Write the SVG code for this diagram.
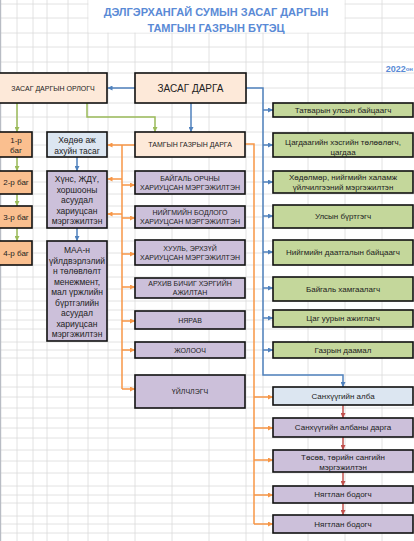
<svg xmlns="http://www.w3.org/2000/svg" width="414" height="541" viewBox="0 0 414 541">
<style>
text{font-family:"Liberation Sans",Arial,sans-serif;fill:#222;text-anchor:middle;dominant-baseline:central}
.grid line{stroke:#dadada;stroke-width:0.8}
.box{stroke:#111;stroke-width:1.6}
.peach{fill:#fde9d9}.purple{fill:#ccc0da}.lblue{fill:#dce6f1}.orange{fill:#fabf8f}.green{fill:#c4d79b}
.cap{font-size:7px}.sm{font-size:8px}.md{font-size:8.5px}
.cb{stroke:#4f81bd;stroke-width:1.5;fill:none}
.cg{stroke:#9bbb59;stroke-width:1.5;fill:none}
.co{stroke:#f79646;stroke-width:1.5;fill:none}
.cr{stroke:#c0504d;stroke-width:1.5;fill:none}
.title{font-size:11px;font-weight:bold;fill:#5a8ad6}
</style>
<defs>
<marker id="mb" viewBox="0 0 10 10" refX="10" refY="5" markerWidth="5" markerHeight="5" markerUnits="userSpaceOnUse" orient="auto"><path d="M0,0L10,5L0,10z" fill="#4f81bd"/></marker>
<marker id="mg" viewBox="0 0 10 10" refX="10" refY="5" markerWidth="5" markerHeight="5" markerUnits="userSpaceOnUse" orient="auto"><path d="M0,0L10,5L0,10z" fill="#9bbb59"/></marker>
<marker id="mo" viewBox="0 0 10 10" refX="10" refY="5" markerWidth="5" markerHeight="5" markerUnits="userSpaceOnUse" orient="auto"><path d="M0,0L10,5L0,10z" fill="#f79646"/></marker>
<marker id="mr" viewBox="0 0 10 10" refX="10" refY="5" markerWidth="5" markerHeight="5" markerUnits="userSpaceOnUse" orient="auto"><path d="M0,0L10,5L0,10z" fill="#c0504d"/></marker>
</defs>
<rect width="414" height="541" fill="#fff"/>
<g class="grid">
<line x1="17" y1="0" x2="17" y2="541"/><line x1="33" y1="0" x2="33" y2="541"/><line x1="47" y1="0" x2="47" y2="541"/><line x1="68" y1="0" x2="68" y2="541"/><line x1="88" y1="0" x2="88" y2="541"/><line x1="108" y1="0" x2="108" y2="541"/><line x1="135" y1="0" x2="135" y2="541"/><line x1="172" y1="0" x2="172" y2="541"/><line x1="209" y1="0" x2="209" y2="541"/><line x1="246" y1="0" x2="246" y2="541"/><line x1="263" y1="0" x2="263" y2="541"/><line x1="308" y1="0" x2="308" y2="541"/><line x1="345" y1="0" x2="345" y2="541"/><line x1="382" y1="0" x2="382" y2="541"/>
<line x1="0" y1="4" x2="414" y2="4"/><line x1="0" y1="18" x2="414" y2="18"/><line x1="0" y1="33" x2="414" y2="33"/><line x1="0" y1="47" x2="414" y2="47"/><line x1="0" y1="62" x2="414" y2="62"/><line x1="0" y1="73" x2="414" y2="73"/><line x1="0" y1="88" x2="414" y2="88"/><line x1="0" y1="103" x2="414" y2="103"/><line x1="0" y1="117" x2="414" y2="117"/><line x1="0" y1="132" x2="414" y2="132"/><line x1="0" y1="145" x2="414" y2="145"/><line x1="0" y1="157" x2="414" y2="157"/><line x1="0" y1="171" x2="414" y2="171"/><line x1="0" y1="182" x2="414" y2="182"/><line x1="0" y1="194" x2="414" y2="194"/><line x1="0" y1="206" x2="414" y2="206"/><line x1="0" y1="217" x2="414" y2="217"/><line x1="0" y1="228" x2="414" y2="228"/><line x1="0" y1="241" x2="414" y2="241"/><line x1="0" y1="253" x2="414" y2="253"/><line x1="0" y1="265" x2="414" y2="265"/><line x1="0" y1="277" x2="414" y2="277"/><line x1="0" y1="289" x2="414" y2="289"/><line x1="0" y1="301" x2="414" y2="301"/><line x1="0" y1="310" x2="414" y2="310"/><line x1="0" y1="320" x2="414" y2="320"/><line x1="0" y1="329" x2="414" y2="329"/><line x1="0" y1="342" x2="414" y2="342"/><line x1="0" y1="350" x2="414" y2="350"/><line x1="0" y1="358" x2="414" y2="358"/><line x1="0" y1="375" x2="414" y2="375"/><line x1="0" y1="387" x2="414" y2="387"/><line x1="0" y1="397" x2="414" y2="397"/><line x1="0" y1="408" x2="414" y2="408"/><line x1="0" y1="418" x2="414" y2="418"/><line x1="0" y1="428" x2="414" y2="428"/><line x1="0" y1="438" x2="414" y2="438"/><line x1="0" y1="450" x2="414" y2="450"/><line x1="0" y1="461" x2="414" y2="461"/><line x1="0" y1="473" x2="414" y2="473"/><line x1="0" y1="486" x2="414" y2="486"/><line x1="0" y1="495" x2="414" y2="495"/><line x1="0" y1="503" x2="414" y2="503"/><line x1="0" y1="516" x2="414" y2="516"/><line x1="0" y1="524" x2="414" y2="524"/><line x1="0" y1="533" x2="414" y2="533"/>
</g>
<line x1="0.6" y1="0" x2="0.6" y2="541" stroke="#b8bcc4" stroke-width="1.2"/>
<g id="title">
<rect x="88.5" y="0" width="256" height="32.5" fill="#fff"/>
<text class="title" x="216" y="12">ДЭЛГЭРХАНГАЙ СУМЫН ЗАСАГ ДАРГЫН</text>
<text class="title" x="216" y="28">ТАМГЫН ГАЗРЫН БҮТЭЦ</text>
<text x="413" y="68.5" style="font-weight:bold;fill:#5a8ad6;font-size:9px;text-anchor:end">2022<tspan style="font-size:6px">он</tspan></text>
</g>
<g id="connectors">
<path class="cb" d="M135,88H107.5" marker-end="url(#mb)"/>
<path class="cb" d="M191,103V132" marker-end="url(#mb)"/>
<path class="cb" d="M246,88H263V375H343V387" marker-end="url(#mb)"/>
<path class="cb" d="M263,110H273" marker-end="url(#mb)"/>
<path class="cb" d="M263,145H273" marker-end="url(#mb)"/>
<path class="cb" d="M263,182H273" marker-end="url(#mb)"/>
<path class="cb" d="M263,216H273" marker-end="url(#mb)"/>
<path class="cb" d="M263,252H273" marker-end="url(#mb)"/>
<path class="cb" d="M263,288H273" marker-end="url(#mb)"/>
<path class="cb" d="M263,318H273" marker-end="url(#mb)"/>
<path class="cb" d="M263,350H273" marker-end="url(#mb)"/>
<path class="cb" d="M77,157V171" marker-end="url(#mb)"/>
<path class="cb" d="M77,228V241" marker-end="url(#mb)"/>
<path class="cg" d="M17,103V132" marker-end="url(#mg)"/>
<path class="cg" d="M17,157V171" marker-end="url(#mg)"/>
<path class="cg" d="M17,194V206" marker-end="url(#mg)"/>
<path class="cg" d="M17,228V241" marker-end="url(#mg)"/>
<path class="cg" d="M87,103V117H155V132" marker-end="url(#mg)"/>
<path class="co" d="M135,145H107.5" marker-end="url(#mo)"/>
<path class="co" d="M122,145V389"/>
<path class="co" d="M122,179H107.5" marker-end="url(#mo)"/>
<path class="co" d="M122,214H107.5" marker-end="url(#mo)"/>
<path class="co" d="M122,185H135" marker-end="url(#mo)"/>
<path class="co" d="M122,218H135" marker-end="url(#mo)"/>
<path class="co" d="M122,254H135" marker-end="url(#mo)"/>
<path class="co" d="M122,287H135" marker-end="url(#mo)"/>
<path class="co" d="M122,321H135" marker-end="url(#mo)"/>
<path class="co" d="M122,350H135" marker-end="url(#mo)"/>
<path class="co" d="M122,389H135" marker-end="url(#mo)"/>
<path class="co" d="M245,144H254V524"/>
<path class="co" d="M254,397H273" marker-end="url(#mo)"/>
<path class="co" d="M254,428H273" marker-end="url(#mo)"/>
<path class="co" d="M254,460H273" marker-end="url(#mo)"/>
<path class="co" d="M254,495H273" marker-end="url(#mo)"/>
<path class="co" d="M254,524H273" marker-end="url(#mo)"/>
<path class="cr" d="M343,405V418" marker-end="url(#mr)"/>
<path class="cr" d="M343,437V450" marker-end="url(#mr)"/>
<path class="cr" d="M343,472V486" marker-end="url(#mr)"/>
<path class="cr" d="M343,503V515" marker-end="url(#mr)"/>
</g>
<g id="n-orlogch"><rect class="box peach" x="-1" y="73" width="108" height="30"/><text class="cap" x="53" y="88">ЗАСАГ ДАРГЫН ОРЛОГЧ</text></g>
<g id="n-zd"><rect class="box peach" x="135" y="73" width="111" height="30"/><text x="190.5" y="88" style="font-size:10px">ЗАСАГ ДАРГА</text></g>
<g id="n-tgd"><rect class="box peach" x="135" y="132" width="110" height="25"/><text class="cap" x="190" y="144.5">ТАМГЫН ГАЗРЫН ДАРГА</text></g>
<g id="n-baigal"><rect class="box purple" x="135" y="171" width="110" height="23"/><text class="cap" x="190" y="178.5">БАЙГАЛЬ ОРЧНЫ</text><text class="cap" x="190" y="187.5">ХАРИУЦСАН МЭРГЭЖИЛТЭН</text></g>
<g id="n-niigmiin"><rect class="box purple" x="135" y="206" width="110" height="22"/><text class="cap" x="190" y="212.5">НИЙГМИЙН БОДЛОГО</text><text class="cap" x="190" y="221.5">ХАРИУЦСАН МЭРГЭЖИЛТЭН</text></g>
<g id="n-huuli"><rect class="box purple" x="135" y="240" width="110" height="25"/><text class="cap" x="190" y="248">ХУУЛЬ, ЭРХЗҮЙ</text><text class="cap" x="190" y="257">ХАРИУЦСАН МЭРГЭЖИЛТЭН</text></g>
<g id="n-arhiv"><rect class="box purple" x="135" y="278" width="110" height="20"/><text class="cap" x="190" y="283.5">АРХИВ БИЧИГ ХЭРГИЙН</text><text class="cap" x="190" y="292.5">АЖИЛТАН</text></g>
<g id="n-nyarav"><rect class="box purple" x="135" y="311" width="110" height="18"/><text class="cap" x="190" y="320">НЯРАВ</text></g>
<g id="n-jolooch"><rect class="box purple" x="135" y="342" width="110" height="16"/><text class="cap" x="190" y="350">ЖОЛООЧ</text></g>
<g id="n-uilchlegch"><rect class="box purple" x="135" y="375" width="110" height="33"/><text class="cap" x="190" y="391.5">ҮЙЛЧЛЭГЧ</text></g>
<g id="n-hodoo"><rect class="box lblue" x="47" y="132" width="60" height="25"/><text class="md" x="77" y="140">Хөдөө аж</text><text class="md" x="77" y="151">ахуйн тасаг</text></g>
<g id="n-huns"><rect class="box purple" x="47" y="171" width="60" height="57"/><text class="md" x="77" y="179">Хүнс, ЖДҮ,</text><text class="md" x="77" y="189.5">хоршооны</text><text class="md" x="77" y="200">асуудал</text><text class="md" x="77" y="210.5">хариуцсан</text><text class="md" x="77" y="221">мэргэжилтэн</text></g>
<g id="n-maa"><rect class="box purple" x="47" y="241" width="60" height="100"/><text class="md" x="77" y="250">МАА-н</text><text class="md" x="77" y="260.5">үйлдвэрлэлий</text><text class="md" x="77" y="271">н төлөвлөлт</text><text class="md" x="77" y="281.5">менежмент,</text><text class="md" x="77" y="292">мал үржлийн</text><text class="md" x="77" y="302.5">бүртгэлийн</text><text class="md" x="77" y="313">асуудал</text><text class="md" x="77" y="323.5">хариуцсан</text><text class="md" x="77" y="334">мэргэжилтэн</text></g>
<g id="n-bag1"><rect class="box orange" x="-1" y="132" width="33" height="25"/><text class="sm" x="16" y="140">1-р</text><text class="sm" x="16" y="150">баг</text></g>
<g id="n-bag2"><rect class="box orange" x="-1" y="171" width="33" height="23"/><text class="sm" x="16" y="182.5">2-р баг</text></g>
<g id="n-bag3"><rect class="box orange" x="-1" y="206" width="33" height="22"/><text class="sm" x="16" y="217">3-р баг</text></g>
<g id="n-bag4"><rect class="box orange" x="-1" y="241" width="33" height="24"/><text class="sm" x="16" y="253">4-р баг</text></g>
<g id="n-tatvar"><rect class="box green" x="273" y="103" width="140" height="14"/><text class="sm" x="343" y="110">Татварын улсын байцаагч</text></g>
<g id="n-tsagdaa"><rect class="box green" x="273" y="133" width="140" height="24"/><text class="sm" x="343" y="142">Цагдаагийн хэсгийн төлөөлөгч,</text><text class="sm" x="343" y="152.5">цагдаа</text></g>
<g id="n-hodolmor"><rect class="box green" x="273" y="171" width="140" height="22"/><text class="sm" x="343" y="177.5">Хөдөлмөр, нийгмийн халамж</text><text class="sm" x="343" y="187.5">үйлчилгээний мэргэжилтэн</text></g>
<g id="n-burtgegch"><rect class="box green" x="273" y="205" width="140" height="23"/><text class="sm" x="343" y="216.5">Улсын бүртгэгч</text></g>
<g id="n-daatgal"><rect class="box green" x="273" y="240" width="140" height="25"/><text class="sm" x="343" y="252.5">Нийгмийн даатгалын байцаагч</text></g>
<g id="n-hamgaalagch"><rect class="box green" x="273" y="277" width="140" height="24"/><text class="sm" x="343" y="289">Байгаль хамгаалагч</text></g>
<g id="n-tsaguur"><rect class="box green" x="273" y="310" width="140" height="17"/><text class="sm" x="343" y="318.5">Цаг уурын ажиглагч</text></g>
<g id="n-daamal"><rect class="box green" x="273" y="342" width="140" height="16"/><text class="sm" x="343" y="350">Газрын даамал</text></g>
<g id="n-sanhuu"><rect class="box lblue" x="273" y="387" width="140" height="18"/><text class="sm" x="343" y="396">Санхүүгийн алба</text></g>
<g id="n-sanhuudarga"><rect class="box purple" x="273" y="418" width="140" height="19"/><text class="sm" x="343" y="427.5">Санхүүгийн албаны дарга</text></g>
<g id="n-tosov"><rect class="box purple" x="273" y="450" width="140" height="22"/><text class="sm" x="343" y="457">Төсөв, төрийн сангийн</text><text class="sm" x="343" y="467.5">мэргэжилтэн</text></g>
<g id="n-nyagtlan1"><rect class="box purple" x="273" y="486" width="140" height="17"/><text class="sm" x="343" y="494.5">Нягтлан бодогч</text></g>
<g id="n-nyagtlan2"><rect class="box purple" x="273" y="515" width="140" height="18"/><text class="sm" x="343" y="524">Нягтлан бодогч</text></g>
</svg>
